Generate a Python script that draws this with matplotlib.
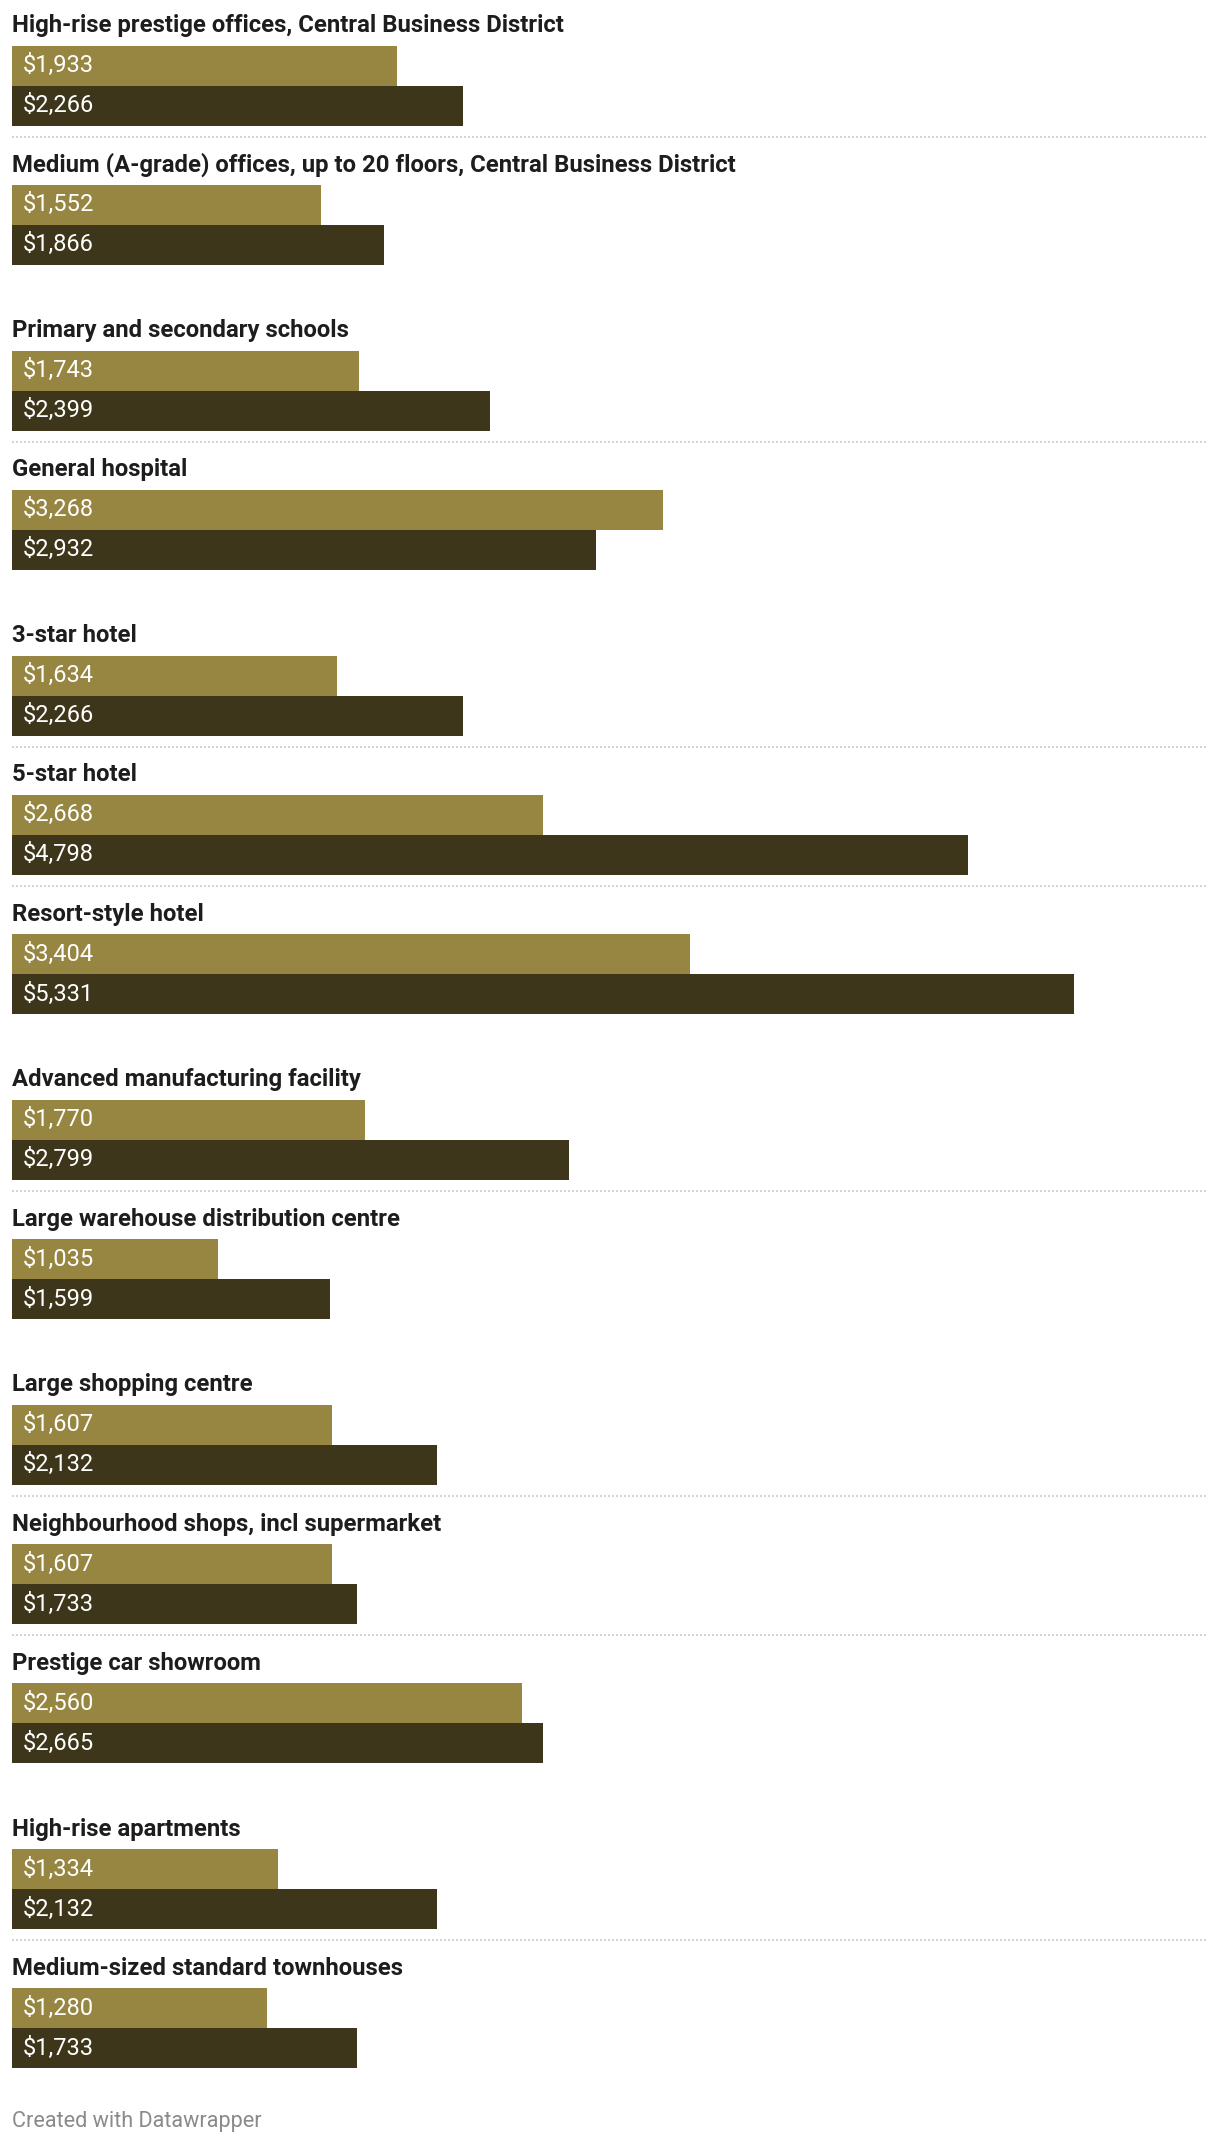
import matplotlib
matplotlib.use("Agg")
import matplotlib.pyplot as plt

plt.rcParams["font.family"] = ["Roboto", "DejaVu Sans"]

categories = [
    "High-rise prestige offices, Central Business District",
    "Medium (A-grade) offices, up to 20 floors, Central Business District",
    "Primary and secondary schools",
    "General hospital",
    "3-star hotel",
    "5-star hotel",
    "Resort-style hotel",
    "Advanced manufacturing facility",
    "Large warehouse distribution centre",
    "Large shopping centre",
    "Neighbourhood shops, incl supermarket",
    "Prestige car showroom",
    "High-rise apartments",
    "Medium-sized standard townhouses",
]
series_a = [1933, 1552, 1743, 3268, 1634, 2668, 3404, 1770, 1035, 1607, 1607, 2560, 1334, 1280]
series_b = [2266, 1866, 2399, 2932, 2266, 4798, 5331, 2799, 1599, 2132, 1733, 2665, 2132, 1733]

# layout (pixels): divider after a group -> short gap, otherwise long gap
divider_after = [True, False, True, False, True, True, False, True, False, True, True, False, True]
FIRST_TOP = 45.5
PITCH_LINE = 139.3
PITCH_GAP = 165.7
BAR_H = 40
W, H = 1220, 2148
LEFT, RIGHT = 12, 1207
XMAX = 6000

C_LIGHT = "#978641"
C_DARK = "#3d361b"

fig = plt.figure(figsize=(W / 100, H / 100), dpi=100)
ax = fig.add_axes([LEFT / W, 0, (RIGHT - LEFT) / W, 1])
ax.set_xlim(0, XMAX)
ax.set_ylim(H, 0)
ax.axis("off")

tops = [FIRST_TOP]
for d in divider_after:
    tops.append(tops[-1] + (PITCH_LINE if d else PITCH_GAP))

for i, (cat, a, b) in enumerate(zip(categories, series_a, series_b)):
    top = tops[i]
    ax.text(0, top - 20, cat, fontsize=17.2, fontweight="bold", color="#1d1d1d",
            va="center", ha="left")
    ax.barh(top + BAR_H / 2, a, height=BAR_H, color=C_LIGHT, align="center")
    ax.barh(top + 1.5 * BAR_H, b, height=BAR_H, color=C_DARK, align="center")
    for yy, v in ((top + BAR_H / 2, a), (top + 1.5 * BAR_H, b)):
        ax.annotate(f"${v:,}", (0, yy), xytext=(11, 0), textcoords="offset pixels",
                    fontsize=17, color="white", va="center", ha="left")
    if i < len(divider_after) and divider_after[i]:
        ly = top + 2 * BAR_H + 11
        ax.plot([0, XMAX], [ly, ly], color="#d4d4d4", lw=1.44,
                linestyle=(0, (1, 1)), solid_capstyle="butt", dash_capstyle="butt")

fig.text(LEFT / W, 1 - 2121 / H, "Created with Datawrapper", fontsize=15.6,
         color="#8a8a8a", va="center", ha="left")

fig.savefig("out.png", dpi=100)
